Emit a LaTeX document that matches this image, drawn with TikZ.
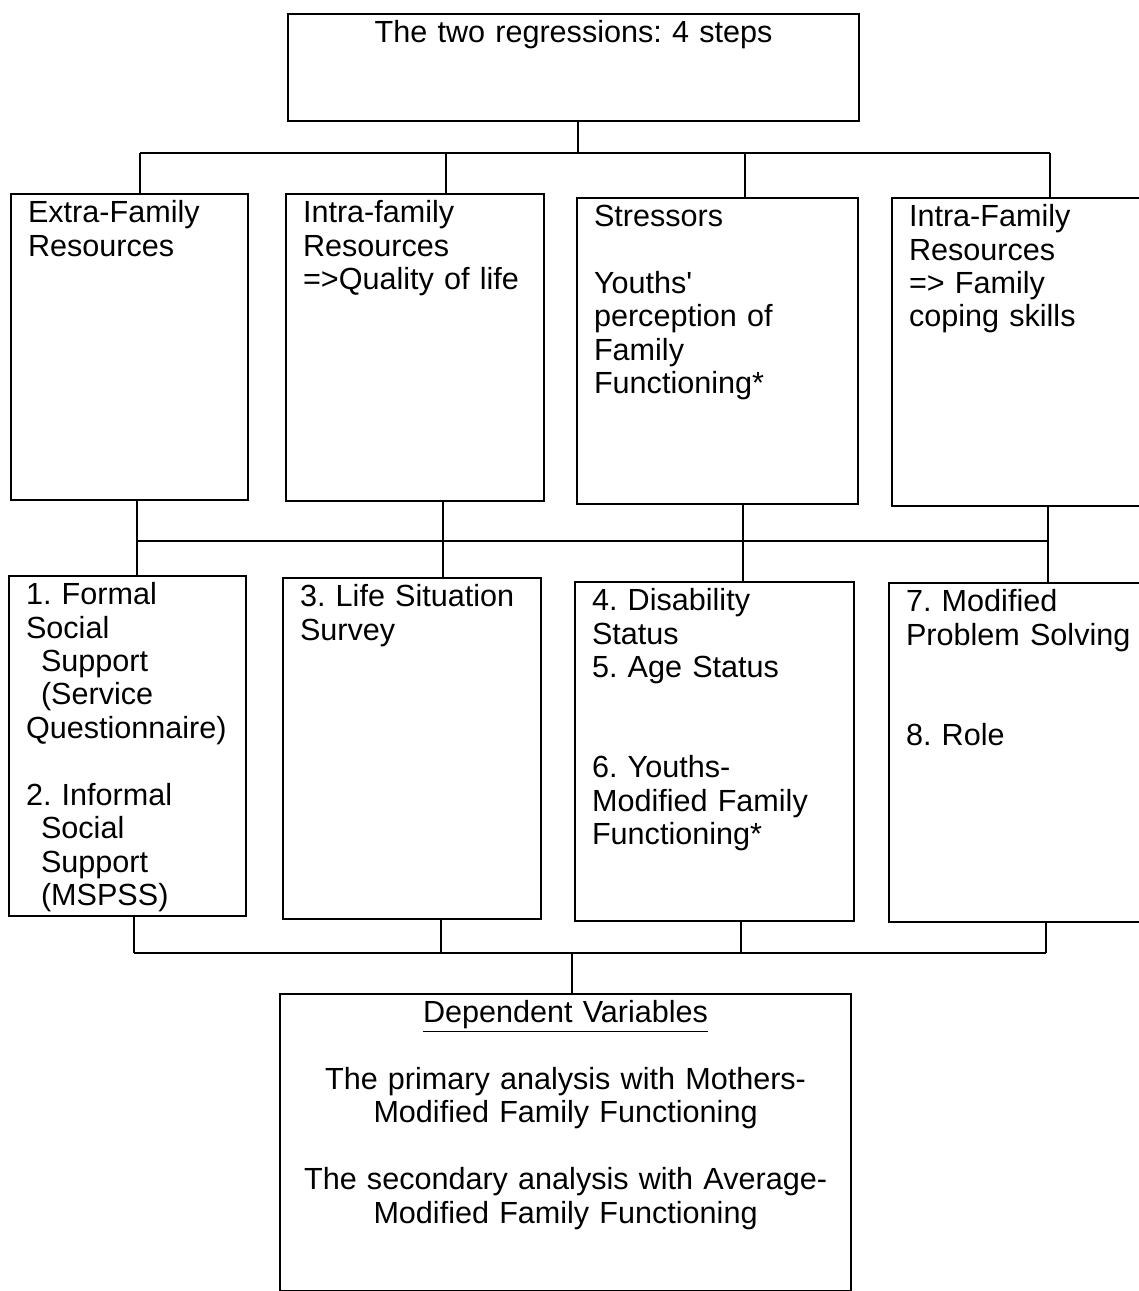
\documentclass[tikz,border=0pt]{standalone}
\usepackage{fontspec}
\setmainfont{Liberation Sans}
\frenchspacing
\newcommand{\boxfont}{\fontsize{17.4}{19.05}\selectfont}
\tikzset{
  stage/.style={draw, line width=1.2pt, anchor=north west, align=left,
    inner xsep=0.34cm, inner ysep=0pt, text height=0.57cm, font=\boxfont},
  link/.style={line width=0.8pt},
}
\begin{document}
\begin{tikzpicture}
        \useasboundingbox (0,0) rectangle (22.78,-25.82);

        % Title box
        \node[stage, align=center, text width=10.74cm, text depth=1.57cm] (top) at (5.74,-0.26)
            {The two regressions: 4 steps};

        % First row: the four blocks
        \node[stage, text width=4.06cm, text depth=5.55cm] (extra) at (0.20,-3.86)
            {Extra-Family\\Resources};
        \node[stage, text width=4.48cm, text depth=5.57cm] (intra) at (5.70,-3.86)
            {Intra-family\\Resources\\=>Quality of life};
        \node[stage, text width=4.94cm, text depth=5.55cm] (stress) at (11.52,-3.94)
            {Stressors\\[\baselineskip]Youths\textquotesingle\\perception of\\Family\\Functioning*};
        \node[stage, text width=4.40cm, text depth=5.59cm] (coping) at (17.82,-3.94)
            {Intra-Family\\Resources\\=> Family\\coping skills};

        % Second row: the measures
        \node[stage, text width=4.06cm, text depth=6.23cm] (social) at (0.16,-11.50)
            {1. Formal\\Social\\\hspace*{0.3cm}Support\\\hspace*{0.3cm}(Service\\Questionnaire)\\[\baselineskip]%
             2. Informal\\\hspace*{0.3cm}Social\\\hspace*{0.3cm}Support\\\hspace*{0.3cm}(MSPSS)};
        \node[stage, text width=4.48cm, text depth=6.25cm] (life) at (5.64,-11.54)
            {3. Life Situation\\Survey};
        \node[stage, text width=4.90cm, text depth=6.21cm] (status) at (11.48,-11.62)
            {4. Disability\\Status\\5. Age Status\\[2\baselineskip]6. Youths-\\Modified Family\\Functioning*};
        \node[stage, text width=4.50cm, text depth=6.21cm] (solve) at (17.76,-11.64)
            {7. Modified\\Problem Solving\\[2\baselineskip]8. Role};

        % Outcome box
        \node[stage, align=center, text width=10.74cm, text depth=5.37cm] (dep) at (5.58,-19.86)
            {\underline{Dependent Variables}\\[\baselineskip]The primary analysis with Mothers-\\Modified Family Functioning\\[\baselineskip]%
             The secondary analysis with Average-\\Modified Family Functioning};

        % Junctions on the three bus lines
        \coordinate (j0) at (11.56,-3.06);
        \coordinate (j1) at (2.80,-3.06);
        \coordinate (j2) at (8.92,-3.06);
        \coordinate (j3) at (14.90,-3.06);
        \coordinate (j4) at (21.00,-3.06);
        \coordinate (k1) at (2.74,-10.82);
        \coordinate (k2) at (8.86,-10.82);
        \coordinate (k3) at (14.86,-10.82);
        \coordinate (k4) at (20.96,-10.82);
        \coordinate (m0) at (11.44,-19.06);
        \coordinate (m1) at (2.68,-19.06);
        \coordinate (m2) at (8.82,-19.06);
        \coordinate (m3) at (14.82,-19.06);
        \coordinate (m4) at (20.92,-19.06);

        % Title to first row
        \draw[link] (top.south -| j0) -- (j0);
        \draw[link] (j1) -- (j4);
        \draw[link] (j1) -- (j1 |- extra.north);
        \draw[link] (j2) -- (j2 |- intra.north);
        \draw[link] (j3) -- (j3 |- stress.north);
        \draw[link] (j4) -- (j4 |- coping.north);

        % First row to second row
        \draw[link] (k1) -- (k4);
        \draw[link] (extra.south -| k1) -- (social.north -| k1);
        \draw[link] (intra.south -| k2) -- (life.north -| k2);
        \draw[link] (stress.south -| k3) -- (status.north -| k3);
        \draw[link] (coping.south -| k4) -- (solve.north -| k4);

        % Second row to the dependent variables
        \draw[link] (social.south -| m1) -- (m1);
        \draw[link] (life.south -| m2) -- (m2);
        \draw[link] (status.south -| m3) -- (m3);
        \draw[link] (solve.south -| m4) -- (m4);
        \draw[link] (m1) -- (m4);
        \draw[link] (m0) -- (dep.north -| m0);
    \end{tikzpicture}
\end{document}
